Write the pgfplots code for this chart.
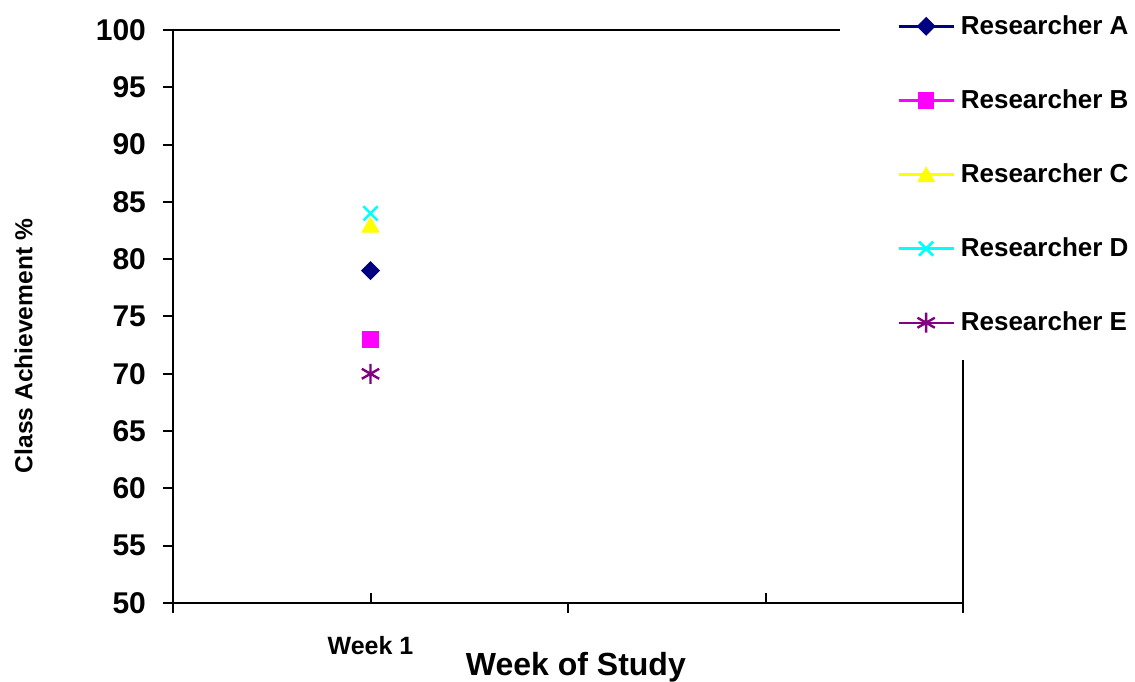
\documentclass[border=0pt]{standalone}
\usepackage{fontspec}
\setmainfont{Liberation Sans}
\usepackage{pgfplots}
\pgfplotsset{compat=1.18}
\definecolor{navyA}{RGB}{0,0,128}
\definecolor{magB}{RGB}{255,0,255}
\definecolor{yelC}{RGB}{255,255,0}
\definecolor{cyaD}{RGB}{0,255,255}
\definecolor{purE}{RGB}{128,0,128}
\begin{document}
\begin{tikzpicture}
\begin{axis}[
  scale only axis, width=395pt, height=286.5pt,
  xmin=0.5, xmax=2.5, ymin=50, ymax=100,
  ytick={50,55,...,100},
  xtick={0.5,1.5,2.5}, xticklabels={},
  extra x ticks={1,2}, extra x tick labels={Week 1,},
  extra x tick style={tick align=inside, xticklabel style={yshift=-13pt}},
  tick align=outside, xtick pos=bottom, ytick pos=left,
  major tick length=5pt,
  tick style={line width=1pt, black},
  axis line style={line width=1pt},
  /pgf/number format/assume math mode=true,
  yticklabel style={font=\fontsize{15}{18}\selectfont\bfseries, xshift=-5pt},
  xticklabel style={font=\fontsize{12.5}{15}\selectfont\bfseries},
  xlabel={Week of Study}, ylabel={Class Achievement \%},
  xlabel style={font=\fontsize{16}{19}\selectfont\bfseries, at={(axis description cs:0.51,-0.112)}, anchor=center},
  ylabel style={font=\fontsize{12.3}{15}\selectfont\bfseries, at={(axis description cs:-0.189,0.4485)}, anchor=center},
  clip=false,
  legend style={at={(axis description cs:0.9165,1.028)}, anchor=north west, draw=none, fill=none, inner sep=0pt,
    row sep=24.05pt, column sep=3pt, font=\fontsize{13}{15}\selectfont\bfseries,
    nodes={inner sep=0pt, text height=10pt, text depth=3pt}, cells={anchor=west}},
  legend image code/.code={\draw[mark repeat=2, mark phase=2, line width=1.2pt] plot coordinates {(0pt,0.5pt)(13.75pt,0.5pt)(27.5pt,0.5pt)};},
]
\addplot[color=navyA, line width=1.2pt, mark=square*, mark size=3.1pt, mark options={rotate=45, line width=0.5pt}] coordinates {(1,79)};
\addplot[color=magB, line width=1.2pt, mark=square*, mark size=3.9pt, mark options={line width=0.5pt}] coordinates {(1,73)};
\addplot[color=yelC, line width=1.2pt, mark=triangle*, mark size=4.8pt, mark options={line width=0.5pt, yshift=-1.2pt}] coordinates {(1,83)};
\addplot[color=cyaD, line width=1.2pt, mark=x, mark size=5pt, mark options={line width=1.3pt}] coordinates {(1,84)};
\addplot[color=purE, line width=1.2pt, mark=asterisk, mark size=5pt, mark options={line width=1.2pt}] coordinates {(1,70)};
\legend{Researcher A,Researcher B,Researcher C,Researcher D,Researcher E}
\fill[white] (axis description cs:0.844,1.017) rectangle (axis description cs:1.01,0.424);
\coordinate (bl) at (axis description cs:-0.21899,-0.13787);
\coordinate (tr) at (axis description cs:1.21772,1.05236);
\end{axis}
\pgfresetboundingbox
\path[use as bounding box] (bl) rectangle (tr);
\end{tikzpicture}
\end{document}
